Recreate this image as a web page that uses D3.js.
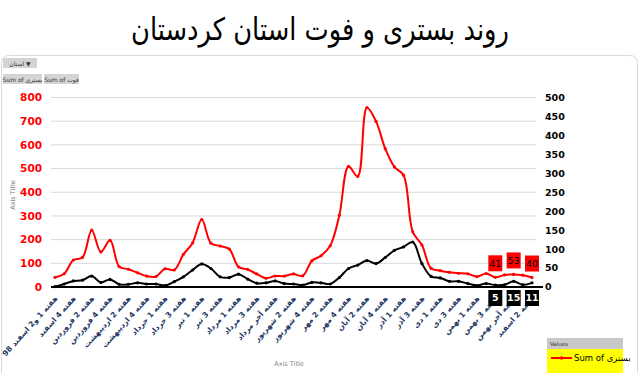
<!DOCTYPE html>
<html>
<head>
<meta charset="utf-8">
<script src="https://cdn.jsdelivr.net/npm/d3@7"></script>
<style>
body{margin:0;background:#fff;}
svg{display:block;}
</style>
</head>
<body>
<div id="chart"></div>
<script>
// weekly categories (every second one is shown on the axis)
var categories = [
	"هفته 1 و2 اسفند 98","هفته 3 اسفند","هفته 4 اسفند",
	"هفته 1 فروردین","هفته 2 فروردین","هفته 3 فروردین","هفته 4 فروردین",
	"هفته 1 اردیبهشت","هفته 2 اردیبهشت","هفته 3 اردیبهشت","هفته 4 اردیبهشت","هفته آخر اردیبهشت",
	"هفته 1 خرداد","هفته 2 خرداد","هفته 3 خرداد","هفته 4 خرداد",
	"هفته 1 تیر","هفته 2 تیر","هفته 3 تیر","هفته 4 تیر",
	"هفته 1 مرداد","هفته 2 مرداد","هفته 3 مرداد","هفته 4 مرداد","هفته آخر مرداد",
	"هفته 1 شهریور","هفته 2 شهریور","هفته 3 شهریور","هفته 4 شهریور",
	"هفته 1 مهر","هفته 2 مهر","هفته 3 مهر","هفته 4 مهر",
	"هفته 1 آبان","هفته 2 آبان","هفته 3 آبان","هفته 4 آبان","هفته آخر آبان",
	"هفته 1 آذر","هفته 2 آذر","هفته 3 آذر","هفته 4 آذر",
	"هفته 1 دی","هفته 2 دی","هفته 3 دی","هفته 4 دی",
	"هفته 1 بهمن","هفته 2 بهمن","هفته 3 بهمن","هفته 4 بهمن","هفته آخر بهمن",
	"هفته 1 اسفند","هفته 2 اسفند"
];

// Sum of بستری (left axis)
var hospitalized = [41,56,114,125,240,148,197,86,75,60,46,44,77,72,138,186,285,185,173,160,
	85,74,55,37,46,46,55,47,110,132,174,303,509,467,757,699,584,507,472,233,
	177,79,69,62,58,56,44,57,41,51,53,50,40];

// Sum of فوت (right axis)
var deaths = [1,8,16,18,29,12,20,7,7,11,8,8,4,14,27,45,61,49,27,25,
	34,21,10,11,16,9,8,5,12,11,8,25,49,58,70,62,78,97,106,119,
	62,28,24,15,15,9,4,9,5,6,15,6,11];

var leftTicks = [0,100,200,300,400,500,600,700,800];
var rightTicks = [0,50,100,150,200,250,300,350,400,450,500];
var labelled = [48,50,52];

var title = "روند بستری و فوت استان کردستان";

var width = 640, height = 373;

var svg = d3.select("#chart").append("svg")
	.attr("width", width)
	.attr("height", height)
	.style("font-family", "'DejaVu Sans', sans-serif");

var rtl = function(s){ return "\u202B" + s + "\u202C"; };

var x = d3.scalePoint()
	.domain(d3.range(categories.length))
	.range([55, 532]);
var yL = d3.scaleLinear().domain([0, 800]).range([287, 97.5]);
var yR = d3.scaleLinear().domain([0, 500]).range([287, 98]);

// outer frame
svg.append("rect")
	.attr("x", 1.5).attr("y", 55.5)
	.attr("width", 636).attr("height", 340)
	.attr("rx", 7)
	.attr("fill", "none")
	.attr("stroke", "#d9d9d9");

svg.append("text")
	.attr("transform", "translate(320,40) scale(0.83,1)")
	.attr("text-anchor", "middle")
	.attr("font-size", 31)
	.attr("fill", "#000")
	.text(rtl(title));

// pivot field buttons
var buttons = [
	{t: "استان ▼", x: 3, y: 58, w: 34},
	{t: "Sum of بستری", x: 3, y: 74, w: 39},
	{t: "Sum of فوت", x: 44, y: 74, w: 35}
];
var btn = svg.selectAll(".btn").data(buttons).enter().append("g").attr("class", "btn");
btn.append("rect")
	.attr("x", function(d){ return d.x; })
	.attr("y", function(d){ return d.y; })
	.attr("width", function(d){ return d.w; })
	.attr("height", 10)
	.attr("fill", "#d4d4d4");
btn.append("text")
	.attr("x", function(d){ return d.x + d.w / 2; })
	.attr("y", function(d){ return d.y + 7.5; })
	.attr("text-anchor", "middle")
	.attr("font-size", 6)
	.attr("fill", "#333")
	.text(function(d){ return d.t; });

// gridlines
svg.append("g").selectAll("line")
	.data(leftTicks.slice(1))
	.enter().append("line")
	.attr("x1", 51).attr("x2", 536)
	.attr("y1", function(d){ return yL(d); })
	.attr("y2", function(d){ return yL(d); })
	.attr("stroke", "#d9d9d9");

// axes tick labels
svg.append("g").selectAll("text")
	.data(leftTicks)
	.enter().append("text")
	.attr("x", 42)
	.attr("y", function(d){ return yL(d); })
	.attr("dy", "0.35em")
	.attr("text-anchor", "end")
	.attr("font-size", 10.5)
	.attr("font-weight", "bold")
	.attr("fill", "#ff0000")
	.text(function(d){ return d; });

svg.append("g").selectAll("text")
	.data(rightTicks)
	.enter().append("text")
	.attr("x", 545)
	.attr("y", function(d){ return yR(d); })
	.attr("dy", "0.35em")
	.attr("font-size", 9.5)
	.attr("font-weight", "bold")
	.attr("fill", "#000")
	.text(function(d){ return d; });

svg.append("text")
	.attr("transform", "translate(15,195) rotate(-90)")
	.attr("text-anchor", "middle")
	.attr("font-size", 6.5)
	.attr("fill", "#7f7f7f")
	.text("Axis Title");

svg.append("text")
	.attr("x", 289).attr("y", 366)
	.attr("text-anchor", "middle")
	.attr("font-size", 6.5)
	.attr("fill", "#7f7f7f")
	.text("Axis Title");

// category labels
svg.append("g").selectAll("text")
	.data(categories.map(function(c, i){ return {c: c, i: i}; }).filter(function(d){ return d.i % 2 === 0; }))
	.enter().append("text")
	.attr("transform", function(d){ return "translate(" + (x(d.i) + 1) + ",297) rotate(-48)"; })
	.attr("text-anchor", "end")
	.attr("dy", "0.35em")
	.attr("font-size", 7.6)
	.attr("font-weight", "bold")
	.attr("fill", "#1f3864")
	.text(function(d){ return rtl(d.c); });

// zero line
svg.append("line")
	.attr("x1", 51).attr("x2", 543)
	.attr("y1", yL(0)).attr("y2", yL(0))
	.attr("stroke", "#000")
	.attr("stroke-width", 2);

function drawSeries(values, yScale, color) {
	var line = d3.line()
		.x(function(d, i){ return x(i); })
		.y(function(d){ return yScale(d); })
		.curve(d3.curveCatmullRom);
	svg.append("path")
		.datum(values)
		.attr("d", line)
		.attr("fill", "none")
		.attr("stroke", color)
		.attr("stroke-width", 2);
	svg.append("g").selectAll("circle")
		.data(values)
		.enter().append("circle")
		.attr("cx", function(d, i){ return x(i); })
		.attr("cy", function(d){ return yScale(d); })
		.attr("r", 1.6)
		.attr("fill", color);
}

drawSeries(hospitalized, yL, "#ff0000");
drawSeries(deaths, yR, "#000");

// data labels
var redLab = svg.append("g").selectAll("g")
	.data(labelled)
	.enter().append("g")
	.attr("transform", function(i){ return "translate(" + x(i) + "," + (yL(hospitalized[i]) - 14) + ")"; });
redLab.append("rect")
	.attr("x", -7).attr("y", -8)
	.attr("width", 14).attr("height", 16)
	.attr("fill", "#ff0000");
redLab.append("text")
	.attr("text-anchor", "middle")
	.attr("dy", "0.35em")
	.attr("font-size", 9.5)
	.attr("fill", "#000")
	.text(function(i){ return hospitalized[i]; });

var blackLab = svg.append("g").selectAll("g")
	.data(labelled)
	.enter().append("g")
	.attr("transform", function(i){ return "translate(" + x(i) + "," + (yL(0) + 11) + ")"; });
blackLab.append("rect")
	.attr("x", -7).attr("y", -8)
	.attr("width", 14).attr("height", 16)
	.attr("fill", "#000");
blackLab.append("text")
	.attr("text-anchor", "middle")
	.attr("dy", "0.35em")
	.attr("font-size", 9.5)
	.attr("font-weight", "bold")
	.attr("fill", "#fff")
	.text(function(i){ return deaths[i]; });

// legend (only the first entry fits in the view)
var lg = svg.append("g").attr("transform", "translate(547,338)");
lg.append("rect").attr("width", 76).attr("height", 40).attr("fill", "#ffff00");
lg.append("rect").attr("width", 76).attr("height", 11).attr("fill", "#c8c8c8");
lg.append("text").attr("x", 3).attr("y", 8).attr("font-size", 5.5).attr("fill", "#333").text("Values");
lg.append("line")
	.attr("x1", 4).attr("x2", 25)
	.attr("y1", 20).attr("y2", 20)
	.attr("stroke", "#ff0000")
	.attr("stroke-width", 2);
lg.append("circle")
	.attr("cx", 14.5).attr("cy", 20)
	.attr("r", 1.8)
	.attr("fill", "#ff0000");
lg.append("text")
	.attr("x", 27).attr("y", 20)
	.attr("dy", "0.35em")
	.attr("font-size", 8.5)
	.attr("fill", "#000")
	.text("Sum of بستری");
</script>
</body>
</html>
